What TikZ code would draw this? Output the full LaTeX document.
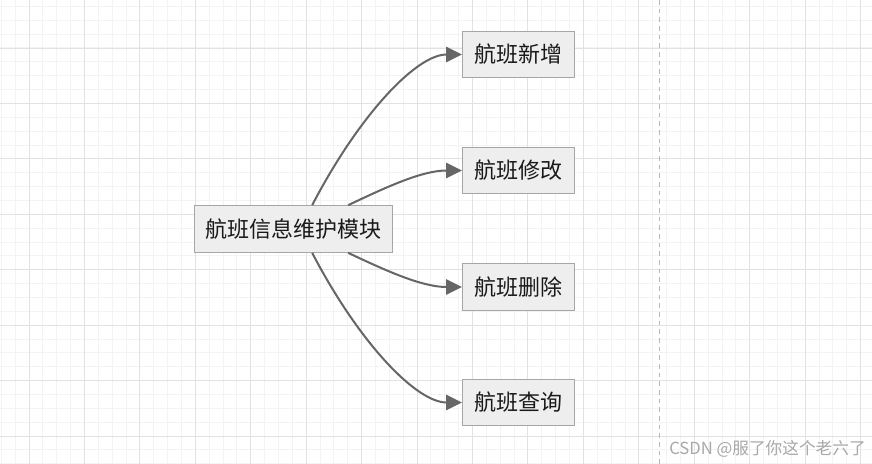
\documentclass[tikz,border=0pt]{standalone}
\usepackage{fontspec}
\newfontfamily\cjk{Noto Sans CJK SC}
\usetikzlibrary{arrows.meta}
\definecolor{gdminor}{HTML}{F3F3F3}
\definecolor{gdmajor}{HTML}{E2E2E2}
\definecolor{bxfill}{HTML}{EEEEEE}
\definecolor{bxline}{HTML}{A6A6A6}
\definecolor{edgegray}{HTML}{666666}
\definecolor{marktext}{HTML}{A8A8A8}

\begin{document}
\begin{tikzpicture}[x=0.75pt,y=-0.75pt,
    box/.style={draw=bxline,fill=bxfill,line width=0.75pt,inner sep=0pt,
      minimum height=35pt,text=black!90,font=\cjk\fontsize{16.5}{19}\selectfont},
    leaf/.style={box,minimum width=84pt},
    link/.style={draw=edgegray,line width=1.5pt,
      -{Triangle[length=12pt,width=11.5pt]}}]
    \useasboundingbox (0,0) rectangle (872,464);
    \fill[white] (0,0) rectangle (872,464);
    % grid
    \foreach \i in {0,...,63} {
      \draw[gdminor,line width=0.75pt] (1.3+\i*13.86,0) -- (1.3+\i*13.86,464);
    }
    \foreach \i in {0,...,33} {
      \draw[gdminor,line width=0.75pt] (0,6.4+\i*13.86) -- (872,6.4+\i*13.86);
    }
    \foreach \i in {0,...,15} {
      \draw[gdmajor,line width=0.75pt] (29+\i*55.44,0) -- (29+\i*55.44,464);
    }
    \foreach \i in {0,...,8} {
      \draw[gdmajor,line width=0.75pt] (0,48+\i*55.44) -- (872,48+\i*55.44);
    }
    \draw[bxline!80,line width=0.75pt,dash pattern=on 3.5pt off 3pt] (659,0) -- (659,464);

    % nodes
    \node[box,minimum width=149pt] (maint) at (293.5,229) {航班信息维护模块};
    \node[leaf] (add) at (518.5,54.5) {航班新增};
    \node[leaf] (modify) at (518.5,170.5) {航班修改};
    \node[leaf] (del) at (518.5,287) {航班删除};
    \node[leaf] (query) at (518.5,402.5) {航班查询};

    % connectors
    \draw[link] ([xshift=14pt]maint.north) .. controls +(48,-92) and +(-45,0) .. (add.west);
    \draw[link] ([xshift=41pt]maint.north) .. controls +(38,-18) and +(-40,0) .. (modify.west);
    \draw[link] ([xshift=41pt]maint.south) .. controls +(38,18) and +(-40,0) .. (del.west);
    \draw[link] ([xshift=14pt]maint.south) .. controls +(48,92) and +(-45,0) .. (query.west);

    \node[anchor=west,text=marktext,inner sep=0pt,font=\cjk\fontsize{12.5}{14}\selectfont]
      (mark) at (669,449) {CSDN @服了你这个老六了};
  \end{tikzpicture}
\end{document}
